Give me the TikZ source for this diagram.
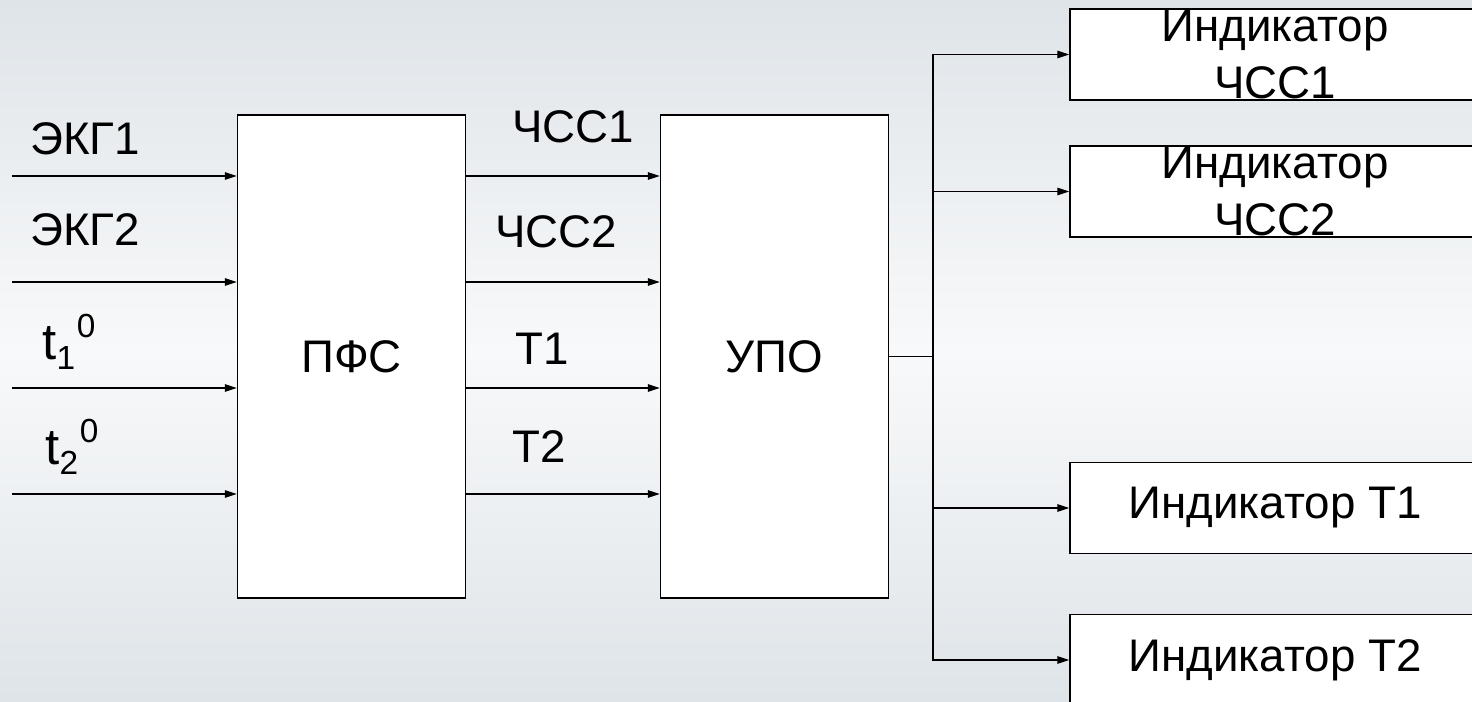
\documentclass[tikz,border=0pt]{standalone}
\usepackage{fontspec}
\setmainfont{Liberation Sans}
\usetikzlibrary{positioning,arrows.meta}
\definecolor{bgedge}{HTML}{DFE4E8}
\definecolor{bgmid}{HTML}{F8F9FA}
\newcommand{\tsig}[1]{{\fontsize{29}{30}\selectfont t}\raisebox{-5.7pt}{\fontsize{19}{19}\selectfont #1}\hspace{1pt}\raisebox{12.5pt}{\fontsize{19}{19}\selectfont 0}}

\begin{document}
\begin{tikzpicture}[
    block/.style={rectangle,draw,line width=0.8pt,fill=white,inner sep=0pt,
                  minimum width=4.56cm,minimum height=9.66cm,font=\fontsize{26}{30}\selectfont},
    indbox/.style={rectangle,draw,line width=0.8pt,fill=white,inner sep=0pt,
                   minimum width=8.2cm,minimum height=1.82cm,align=center,
                   font=\fontsize{26}{32}\selectfont},
    sig/.style={anchor=base west,inner sep=0pt,font=\fontsize{26}{30}\selectfont},
    arrow/.style={-{Triangle[length=0.24cm,width=0.15cm]},line width=0.6pt}
]
\shade[top color=bgedge,bottom color=bgedge,middle color=bgmid] (0,0) rectangle (29.44,14.02);
\useasboundingbox (0,0) rectangle (29.44,14.02);
\clip (0,0) rectangle (29.44,14.02);

% main blocks
\node[block] (pfs) at (7.03,6.89) {ПФС};
\node[block] (upo) at (15.49,6.89) {УПО};

% indicators
\node[indbox] (ind1) at (25.5,12.93) {Индикатор\\ЧСС1};
\node[indbox] (ind2) at (25.5,10.19) {Индикатор\\ЧСС2};
\node[indbox] (ind3) at (25.5,3.86)  {Индикатор T1};
\node[indbox] (ind4) at (25.5,0.82)  {Индикатор T2};

% inputs
\coordinate (in1) at (0.24,10.5);
\coordinate (in2) at (0.24,8.38);
\coordinate (in3) at (0.24,6.26);
\coordinate (in4) at (0.24,4.14);
\foreach \i in {1,...,4} {
    \draw[arrow] (in\i) -- (in\i -| pfs.west);
    \draw[arrow] (pfs.east |- in\i) -- (upo.west |- in\i);
}

\node[sig] (ekg1) at (0.6,10.92) {ЭКГ1};
\node[sig] (ekg2) at (0.6,9.1)   {ЭКГ2};
\node[sig] (t1in) at (0.84,6.84) {\tsig{1}};
\node[sig] (t2in) at (0.9,4.74)  {\tsig{2}};

\node[sig] (hr1) at (10.24,11.16) {ЧСС1};
\node[sig] (hr2) at (9.9,9.06)    {ЧСС2};
\node[sig] (tt1) at (10.3,6.72)   {T1};
\node[sig] (tt2) at (10.24,4.78)  {T2};

% output bus
\coordinate (bus) at (18.66,6.89);
\draw[line width=0.6pt] (upo.east |- bus) -- (bus);
\foreach \k in {1,...,4}
    \draw[arrow] (bus) |- (ind\k.west);
\end{tikzpicture}
\end{document}
